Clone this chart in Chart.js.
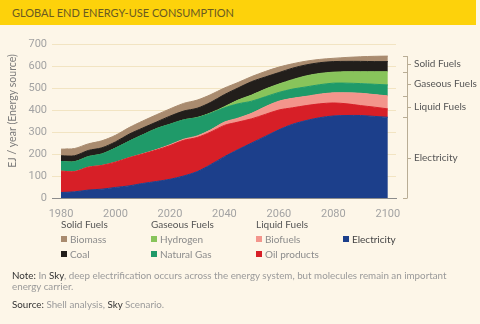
<!DOCTYPE html>
<html>
<head>
<meta charset="utf-8">
<script src="https://cdn.jsdelivr.net/npm/chart.js@4.4.1/dist/chart.umd.min.js"></script>
<style>
  html, body { margin: 0; padding: 0; }
  body {
    width: 480px; height: 324px; overflow: hidden; position: relative;
    background: #fdf6e8; font-family: Lato, "Noto Sans", sans-serif;
  }
  #titleBar { position: absolute; left: 0; top: 0; width: 476px; height: 25px; background: #fdd20b; }
  #titleBar span { position: absolute; left: 12px; top: 6px; font-size: 11px; color: #6a5a22; }
  #chartBox { position: absolute; left: 0; top: 0; }
  .lg { position: absolute; font-size: 10px; white-space: nowrap; color: #8c8c8c; }
  .lg.head { color: #555; }
  .lg i { position: absolute; left: 0; top: 3px; width: 6px; height: 6px; }
  .txt { position: absolute; left: 12px; font-size: 9.8px; line-height: 11px; color: #9a9a9a; white-space: nowrap; }
  .txt b { font-weight: normal; color: #333; }
</style>
</head>
<body>
<div id="titleBar"><span>GLOBAL END ENERGY-USE CONSUMPTION</span></div>
<canvas id="chartBox" width="480" height="220"></canvas>
<div id="legend"></div>
<div class="txt" style="top:270px"><b>Note:</b> In <b>Sky</b>, deep electrification occurs across the energy system, but molecules remain an important<br>energy carrier.</div>
<div class="txt" style="top:299px"><b>Source:</b> Shell analysis, <b>Sky</b> Scenario.</div>

<script>
// EJ / year by energy source, stacked bottom to top
const years = [1980, 1985, 1990, 1995, 2000, 2005, 2010, 2015, 2020, 2025, 2030, 2035, 2040,
               2045, 2050, 2055, 2060, 2065, 2070, 2075, 2080, 2085, 2090, 2095, 2100];
const electricity = [25, 28, 36, 40, 48, 55, 66, 75, 85, 100, 120, 152, 188, 220, 250, 280, 310, 335, 352, 365, 373, 375, 375, 371, 367];
const oilProducts = [97, 92, 104, 108, 115, 128, 134, 143, 153, 162, 155, 148, 142, 125, 110, 100, 90, 75, 68, 63, 59, 53, 45, 42, 38];
const biofuels    = [0, 0, 0, 0, 0, 0, 1, 2, 4, 5, 7, 10, 15, 18, 25, 35, 40, 43, 42, 44, 46, 50, 56, 57, 59];
const naturalGas  = [44, 45, 48, 52, 64, 75, 86, 95, 93, 88, 83, 75, 65, 65, 55, 45, 40, 42, 43, 43, 44, 44, 44, 47, 50];
const hydrogen    = [0, 0, 0, 0, 0, 0, 0, 0, 0, 0, 1, 2, 5, 17, 28, 35, 38, 43, 50, 51, 50, 52, 54, 57, 60];
const coal        = [26, 27, 28, 28, 28, 32, 31, 30, 37, 40, 42, 48, 55, 55, 61, 55, 52, 52, 50, 49, 48, 47, 47, 46, 46];
const biomass     = [30, 33, 30, 32, 30, 30, 32, 33, 33, 35, 37, 35, 30, 25, 23, 25, 25, 20, 17, 15, 15, 18, 21, 24, 25];

const xTicks = [1980, 2000, 2020, 2040, 2060, 2080, 2100];
const yTicks = [0, 100, 200, 300, 400, 500, 600, 700];

// bracket groups on the right, bottom to top (number of stacked series in each)
const groupNames = ['Electricity', 'Liquid Fuels', 'Gaseous Fuels', 'Solid Fuels'];
const groupSizes = [1, 2, 2, 2];

const series = [
    { label: 'Electricity', data: electricity, color: '#1c3f8b' },
    { label: 'Oil products', data: oilProducts, color: '#d71f27' },
    { label: 'Biofuels', data: biofuels, color: '#f3958c' },
    { label: 'Natural Gas', data: naturalGas, color: '#1f9a69' },
    { label: 'Hydrogen', data: hydrogen, color: '#88c45b' },
    { label: 'Coal', data: coal, color: '#221e1b' },
    { label: 'Biomass', data: biomass, color: '#a98b6f' }
];

// legend columns: header + items
const legendHeads = ['Solid Fuels', 'Gaseous Fuels', 'Liquid Fuels', ''];
const legendItems = [['Biomass', 'Coal'], ['Hydrogen', 'Natural Gas'], ['Biofuels', 'Oil products'], ['Electricity']];

const FONT = 'Lato, "Noto Sans", sans-serif';
const TICK_FONT = 'Roboto, "Noto Sans", sans-serif';

// legend
const legendX = [61, 151, 256, 343];
const legendEl = document.getElementById('legend');
legendHeads.forEach(function(head, c) {
    if (head) {
        const h = document.createElement('div');
        h.className = 'lg head';
        h.style.left = legendX[c] + 'px';
        h.style.top = '218px';
        h.textContent = head;
        legendEl.appendChild(h);
    }
    legendItems[c].forEach(function(name, r) {
        const s = series.find(x => x.label === name);
        const d = document.createElement('div');
        d.className = 'lg';
        d.style.left = legendX[c] + 'px';
        d.style.top = (233 + r * 15) + 'px';
        d.style.paddingLeft = '9px';
        if (name === 'Electricity') d.style.color = '#444';
        d.innerHTML = '<i style="background:' + s.color + '"></i>' + name;
        legendEl.appendChild(d);
    });
});

// y title + fuel group brackets
const sidePlugin = {
    id: 'side',
    afterDraw(chart) {
        const ctx = chart.ctx;
        const area = chart.chartArea;
        const y = chart.scales.y;

        ctx.save();
        ctx.translate(13, (area.top + area.bottom) / 2 - 10);
        ctx.rotate(-Math.PI / 2);
        ctx.font = '10.5px ' + FONT;
        ctx.fillStyle = '#7a7a7a';
        ctx.textAlign = 'center';
        ctx.textBaseline = 'middle';
        ctx.fillText('EJ / year (Energy source)', 0, 0);
        ctx.restore();

        const last = years.length - 1;
        const bounds = [0];
        let k = 0, cum = 0;
        groupSizes.forEach(function(n) {
            for (let i = 0; i < n; i++) cum += series[k++].data[last];
            bounds.push(cum);
        });

        const bx = area.right + 11;
        ctx.save();
        ctx.strokeStyle = '#b9ad95';
        ctx.lineWidth = 1;
        ctx.beginPath();
        ctx.moveTo(bx + 0.5, y.getPixelForValue(bounds[bounds.length - 1]));
        ctx.lineTo(bx + 0.5, y.getPixelForValue(0));
        bounds.forEach(function(b) {
            const py = Math.round(y.getPixelForValue(b)) + 0.5;
            ctx.moveTo(bx - 4, py);
            ctx.lineTo(bx + 0.5, py);
        });
        ctx.stroke();

        ctx.font = '10px ' + FONT;
        ctx.fillStyle = '#555';
        ctx.textBaseline = 'middle';
        groupNames.forEach(function(name, g) {
            const py = Math.round(y.getPixelForValue((bounds[g] + bounds[g + 1]) / 2)) + 0.5;
            ctx.beginPath();
            ctx.moveTo(bx, py);
            ctx.lineTo(bx + 4, py);
            ctx.stroke();
            ctx.fillText(name, bx + 7, py - 1);
        });
        ctx.restore();
    }
};

new Chart(document.getElementById('chartBox'), {
    type: 'line',
    data: {
        datasets: series.map(function(s, i) {
            return {
                label: s.label,
                data: years.map((yr, j) => ({ x: yr, y: s.data[j] })),
                backgroundColor: s.color,
                borderColor: s.color,
                borderWidth: 1,
                pointRadius: 0,
                tension: 0.3,
                fill: i === 0 ? 'origin' : '-1'
            };
        })
    },
    options: {
        responsive: false,
        animation: false,
        layout: { padding: { left: 4, right: 84, top: 44, bottom: 0 } },
        plugins: { legend: { display: false }, tooltip: { enabled: false } },
        scales: {
            x: {
                type: 'linear', min: 1980, max: 2103, z: 1,
                grid: { display: false },
                border: { display: true, color: '#8c8c8c', width: 1 },
                ticks: {
                    color: '#a3a3a3', font: { family: TICK_FONT, size: 11 }, padding: 2,
                    callback: v => String(v)
                },
                afterBuildTicks: s => { s.ticks = xTicks.map(v => ({ value: v })); },
                afterFit: s => { s.height = 22; }
            },
            y: {
                stacked: true, min: 0, max: 700,
                grid: {
                    color: c => c.tick.value === 0 ? '#8c8c8c' : '#f2e4c2',
                    drawTicks: true, tickLength: 9
                },
                border: { display: false },
                ticks: { color: '#a3a3a3', font: { family: TICK_FONT, size: 11 }, padding: 5 },
                afterBuildTicks: s => { s.ticks = yTicks.map(v => ({ value: v })); },
                afterFit: s => { s.width = 57; }
            }
        }
    },
    plugins: [sidePlugin]
});
</script>
</body>
</html>
